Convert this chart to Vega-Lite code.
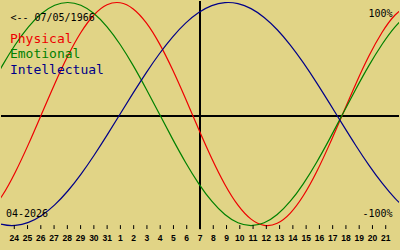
{
  "$schema": "https://vega.github.io/schema/vega-lite/v6.json",
  "width": 400,
  "height": 250,
  "autosize": {"type": "fit", "contains": "padding"},
  "padding": 0,
  "background": "#E1D486",
  "config": {"view": {"stroke": null}},
  "datasets": {
    "curves": [
      {"day": -16, "Physical": -0.8879, "Emotional": 0.2225, "Intellectual": -0.9450},
      {"day": -15, "Physical": -0.7308, "Emotional": 0.4339, "Intellectual": -0.9898},
      {"day": -14, "Physical": -0.5196, "Emotional": 0.6235, "Intellectual": -0.9989},
      {"day": -13, "Physical": -0.2698, "Emotional": 0.7818, "Intellectual": -0.9718},
      {"day": -12, "Physical": 0.0, "Emotional": 0.9010, "Intellectual": -0.9096},
      {"day": -11, "Physical": 0.2698, "Emotional": 0.9749, "Intellectual": -0.8146},
      {"day": -10, "Physical": 0.5196, "Emotional": 1.0, "Intellectual": -0.6901},
      {"day": -9, "Physical": 0.7308, "Emotional": 0.9749, "Intellectual": -0.5406},
      {"day": -8, "Physical": 0.8879, "Emotional": 0.9010, "Intellectual": -0.3717},
      {"day": -7, "Physical": 0.9791, "Emotional": 0.7818, "Intellectual": -0.1893},
      {"day": -6, "Physical": 0.9977, "Emotional": 0.6235, "Intellectual": 0.0},
      {"day": -5, "Physical": 0.9423, "Emotional": 0.4339, "Intellectual": 0.1893},
      {"day": -4, "Physical": 0.8170, "Emotional": 0.2225, "Intellectual": 0.3717},
      {"day": -3, "Physical": 0.6311, "Emotional": 0.0, "Intellectual": 0.5406},
      {"day": -2, "Physical": 0.3984, "Emotional": -0.2225, "Intellectual": 0.6901},
      {"day": -1, "Physical": 0.1362, "Emotional": -0.4339, "Intellectual": 0.8146},
      {"day": 0, "Physical": -0.1362, "Emotional": -0.6235, "Intellectual": 0.9096},
      {"day": 1, "Physical": -0.3984, "Emotional": -0.7818, "Intellectual": 0.9718},
      {"day": 2, "Physical": -0.6311, "Emotional": -0.9010, "Intellectual": 0.9989},
      {"day": 3, "Physical": -0.8170, "Emotional": -0.9749, "Intellectual": 0.9898},
      {"day": 4, "Physical": -0.9423, "Emotional": -1.0, "Intellectual": 0.9450},
      {"day": 5, "Physical": -0.9977, "Emotional": -0.9749, "Intellectual": 0.8660},
      {"day": 6, "Physical": -0.9791, "Emotional": -0.9010, "Intellectual": 0.7557},
      {"day": 7, "Physical": -0.8879, "Emotional": -0.7818, "Intellectual": 0.6182},
      {"day": 8, "Physical": -0.7308, "Emotional": -0.6235, "Intellectual": 0.4582},
      {"day": 9, "Physical": -0.5196, "Emotional": -0.4339, "Intellectual": 0.2817},
      {"day": 10, "Physical": -0.2698, "Emotional": -0.2225, "Intellectual": 0.0951},
      {"day": 11, "Physical": 0.0, "Emotional": 0.0, "Intellectual": -0.0951},
      {"day": 12, "Physical": 0.2698, "Emotional": 0.2225, "Intellectual": -0.2817},
      {"day": 13, "Physical": 0.5196, "Emotional": 0.4339, "Intellectual": -0.4582},
      {"day": 14, "Physical": 0.7308, "Emotional": 0.6235, "Intellectual": -0.6182},
      {"day": 15, "Physical": 0.8879, "Emotional": 0.7818, "Intellectual": -0.7557},
      {"day": 16, "Physical": 0.9791, "Emotional": 0.9010, "Intellectual": -0.8660}
    ],
    "ticks": [
      {"day": -14, "label": "24"}, {"day": -13, "label": "25"}, {"day": -12, "label": "26"},
      {"day": -11, "label": "27"}, {"day": -10, "label": "28"}, {"day": -9, "label": "29"},
      {"day": -8, "label": "30"}, {"day": -7, "label": "31"}, {"day": -6, "label": "1"},
      {"day": -5, "label": "2"}, {"day": -4, "label": "3"}, {"day": -3, "label": "4"},
      {"day": -2, "label": "5"}, {"day": -1, "label": "6"}, {"day": 0, "label": "7"},
      {"day": 1, "label": "8"}, {"day": 2, "label": "9"}, {"day": 3, "label": "10"},
      {"day": 4, "label": "11"}, {"day": 5, "label": "12"}, {"day": 6, "label": "13"},
      {"day": 7, "label": "14"}, {"day": 8, "label": "15"}, {"day": 9, "label": "16"},
      {"day": 10, "label": "17"}, {"day": 11, "label": "18"}, {"day": 12, "label": "19"},
      {"day": 13, "label": "20"}, {"day": 14, "label": "21"}
    ]
  },
  "resolve": {"scale": {"x": "independent"}},
  "layer": [
    {
      "data": {"name": "ticks"},
      "layer": [
        {
          "mark": {"type": "rule", "color": "#000000", "strokeWidth": 1},
          "encoding": {
            "y": {"datum": -0.018, "type": "quantitative", "scale": {"domain": [-1.219, 1.0134], "nice": false, "zero": false}, "axis": null}
          }
        },
        {
          "mark": {"type": "rule", "color": "#000000", "strokeWidth": 1},
          "encoding": {
            "x": {"datum": 0, "type": "quantitative", "scale": {"domain": [-15, 15], "nice": false, "zero": false}, "axis": null},
            "y": {"datum": 1.0134, "type": "quantitative", "scale": {"domain": [-1.219, 1.0134], "nice": false, "zero": false}, "axis": null},
            "y2": {"datum": -1.031}
          }
        }
      ]
    },
    {
      "data": {"name": "curves"},
      "transform": [{"fold": ["Physical", "Emotional", "Intellectual"], "as": ["series", "value"]}],
      "mark": {"type": "line", "interpolate": "natural", "strokeWidth": 1.2, "clip": true},
      "encoding": {
        "x": {"field": "day", "type": "quantitative", "scale": {"domain": [-15.1, 15.3], "nice": false, "zero": false}, "axis": null},
        "y": {"field": "value", "type": "quantitative", "scale": {"domain": [-1.219, 1.0134], "nice": false, "zero": false}, "axis": null},
        "color": {"field": "series", "type": "nominal", "scale": {"domain": ["Physical", "Emotional", "Intellectual"], "range": ["#ee0000", "#008000", "#000088"]}, "legend": null},
        "detail": {"field": "series"}
      }
    },
    {
      "data": {"name": "ticks"},
      "layer": [
        {
          "mark": {"type": "rule", "color": "#000000", "strokeWidth": 1},
          "encoding": {
            "x": {"field": "day", "type": "quantitative", "scale": {"domain": [-15, 15], "nice": false, "zero": false}, "axis": null},
            "y": {"datum": -0.996, "type": "quantitative", "scale": {"domain": [-1.219, 1.0134], "nice": false, "zero": false}, "axis": null},
            "y2": {"datum": -1.031}
          }
        },
        {
          "mark": {"type": "text", "font": "Liberation Sans", "fontWeight": "bold", "fontSize": 8.5, "align": "center", "baseline": "alphabetic", "color": "#000000"},
          "encoding": {
            "x": {"field": "day", "type": "quantitative", "scale": {"domain": [-15, 15], "nice": false, "zero": false}, "axis": null},
            "y": {"datum": -1.141, "type": "quantitative", "scale": {"domain": [-1.219, 1.0134], "nice": false, "zero": false}, "axis": null},
            "text": {"field": "label"}
          }
        },
        {
          "data": {"values": [{"t": "<-- 07/05/1966"}]},
          "mark": {"type": "text", "font": "DejaVu Sans Mono", "fontSize": 10, "align": "left", "baseline": "alphabetic", "color": "#000000"},
          "encoding": {
            "x": {"datum": -14.29, "type": "quantitative", "scale": {"domain": [-15, 15], "nice": false, "zero": false}, "axis": null},
            "y": {"datum": 0.83, "type": "quantitative", "scale": {"domain": [-1.219, 1.0134], "nice": false, "zero": false}, "axis": null},
            "text": {"field": "t"}
          }
        },
        {
          "data": {"values": [{"t": "04-2026"}]},
          "mark": {"type": "text", "font": "DejaVu Sans Mono", "fontSize": 10, "align": "left", "baseline": "alphabetic", "color": "#000000"},
          "encoding": {
            "x": {"datum": -14.625, "type": "quantitative", "scale": {"domain": [-15, 15], "nice": false, "zero": false}, "axis": null},
            "y": {"datum": -0.92, "type": "quantitative", "scale": {"domain": [-1.219, 1.0134], "nice": false, "zero": false}, "axis": null},
            "text": {"field": "t"}
          }
        },
        {
          "data": {"values": [{"t": "100%", "v": 0.866}, {"t": "-100%", "v": -0.92}]},
          "mark": {"type": "text", "font": "DejaVu Sans Mono", "fontSize": 10, "align": "right", "baseline": "alphabetic", "color": "#000000"},
          "encoding": {
            "x": {"datum": 14.51, "type": "quantitative", "scale": {"domain": [-15, 15], "nice": false, "zero": false}, "axis": null},
            "y": {"field": "v", "type": "quantitative", "scale": {"domain": [-1.219, 1.0134], "nice": false, "zero": false}, "axis": null},
            "text": {"field": "t"}
          }
        },
        {
          "data": {"values": [{"t": "Physical", "v": 0.634}, {"t": "Emotional", "v": 0.5}, {"t": "Intellectual", "v": 0.362}]},
          "mark": {"type": "text", "font": "DejaVu Sans Mono", "fontSize": 13, "align": "left", "baseline": "alphabetic"},
          "encoding": {
            "x": {"datum": -14.325, "type": "quantitative", "scale": {"domain": [-15, 15], "nice": false, "zero": false}, "axis": null},
            "y": {"field": "v", "type": "quantitative", "scale": {"domain": [-1.219, 1.0134], "nice": false, "zero": false}, "axis": null},
            "text": {"field": "t"},
            "color": {"field": "t", "type": "nominal", "scale": {"domain": ["Physical", "Emotional", "Intellectual"], "range": ["#ee0000", "#008000", "#000088"]}, "legend": null}
          }
        }
      ]
    }
  ]
}
